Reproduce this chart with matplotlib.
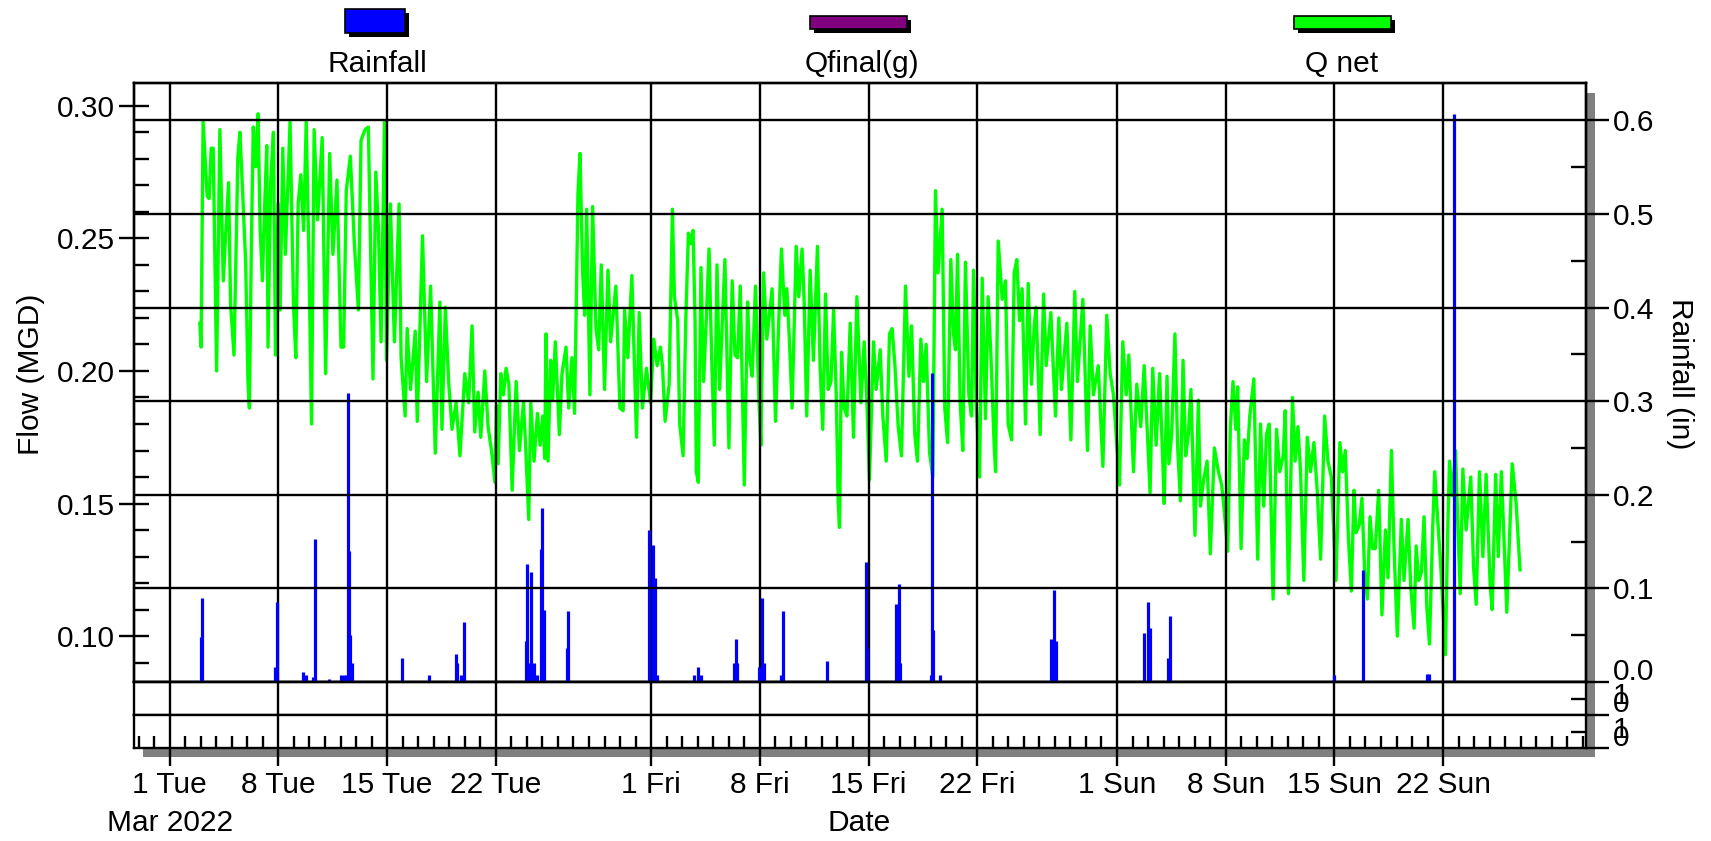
import numpy as np
import matplotlib
matplotlib.use('Agg')
import matplotlib.pyplot as plt
import matplotlib.dates as mdates
import matplotlib.transforms as mtransforms
from matplotlib.patches import Rectangle
from matplotlib.ticker import MultipleLocator, FixedLocator, FuncFormatter, NullFormatter

plt.rcParams['font.family'] = ['Liberation Sans', 'DejaVu Sans']
FS = 21.5

# Q net: days after 2022-03-01 00:00 and flow in MGD
qnet_day = [
    1.94, 2.02, 2.15, 2.41, 2.54, 2.67, 2.80, 3.02, 3.23, 3.45,
    3.60, 3.79, 3.92, 4.14, 4.39, 4.52, 4.67, 4.89, 5.04, 5.13,
    5.26, 5.38, 5.54, 5.69, 5.82, 5.97, 6.12, 6.25, 6.33, 6.50,
    6.68, 6.81, 6.98, 7.11, 7.28, 7.45, 7.75, 7.97, 8.12, 8.27,
    8.44, 8.62, 8.79, 8.96, 9.13, 9.30, 9.52, 9.82, 10.04, 10.30,
    10.51, 10.77, 11.03, 11.20, 11.37, 11.63, 11.89, 12.15, 12.32, 12.58,
    12.79, 13.09, 13.27, 13.44, 13.61, 13.83, 13.96, 14.21, 14.47, 14.77,
    14.90, 15.16, 15.29, 15.51, 15.81, 15.94, 16.28, 16.54, 16.80, 17.10,
    17.40, 17.53, 17.75, 17.96, 18.18, 18.44, 18.69, 19.00, 19.25, 19.47,
    19.64, 19.86, 20.03, 20.29, 20.50, 20.72, 20.94, 21.04, 21.15, 21.32,
    21.49, 21.66, 21.84, 22.05, 22.31, 22.52, 22.78, 22.91, 23.12, 23.25,
    23.46, 23.68, 23.85, 24.02, 24.15, 24.23, 24.36, 24.53, 24.66, 24.83,
    25.09, 25.26, 25.52, 25.69, 25.90, 26.07, 26.29, 26.42, 26.59, 26.72,
    26.85, 27.06, 27.23, 27.45, 27.62, 27.79, 28.00, 28.22, 28.39, 28.73,
    28.99, 29.20, 29.29, 29.50, 29.76, 30.06, 30.23, 30.44, 30.70, 30.96,
    31.17, 31.39, 31.60, 31.73, 31.90, 32.16, 32.37, 32.50, 32.71, 32.84,
    33.06, 33.23, 33.40, 33.53, 33.70, 33.83, 33.91, 34.04, 34.21, 34.38,
    34.55, 34.73, 34.90, 35.07, 35.24, 35.41, 35.54, 35.75, 36.01, 36.22,
    36.40, 36.57, 36.74, 37.00, 37.21, 37.34, 37.51, 37.72, 37.94, 38.07,
    38.24, 38.45, 38.79, 39.01, 39.22, 39.39, 39.61, 39.74, 39.91, 40.08,
    40.34, 40.51, 40.72, 40.85, 41.02, 41.24, 41.45, 41.71, 41.88, 42.05,
    42.23, 42.40, 42.58, 42.75, 42.92, 43.05, 43.13, 43.26, 43.43, 43.61,
    43.82, 44.03, 44.25, 44.51, 44.72, 44.89, 45.06, 45.32, 45.49, 45.75,
    45.92, 46.14, 46.35, 46.52, 46.70, 46.91, 47.12, 47.38, 47.60, 47.77,
    47.98, 48.15, 48.37, 48.54, 48.71, 48.93, 49.14, 49.31, 49.48, 49.74,
    49.91, 50.09, 50.30, 50.47, 50.60, 50.73, 50.90, 51.07, 51.24, 51.46,
    51.63, 51.76, 51.93, 52.15, 52.32, 52.53, 52.70, 52.88, 53.09, 53.18,
    53.35, 53.61, 53.82, 53.99, 54.21, 54.38, 54.55, 54.72, 54.89, 55.11,
    55.28, 55.49, 55.67, 55.79, 56.05, 56.27, 56.44, 56.74, 57.04, 57.25,
    57.42, 57.77, 58.03, 58.28, 58.45, 58.80, 59.10, 59.27, 59.48, 59.79,
    60.09, 60.34, 60.56, 60.77, 61.16, 61.37, 61.59, 61.76, 62.06, 62.27,
    62.53, 62.75, 62.96, 63.13, 63.30, 63.52, 63.74, 63.91, 64.04, 64.22,
    64.34, 64.52, 64.73, 64.90, 65.08, 65.25, 65.42, 65.59, 65.76, 66.02,
    66.24, 66.37, 66.58, 66.80, 67.01, 67.27, 67.53, 67.74, 67.91, 68.13,
    68.30, 68.47, 68.65, 68.77, 68.99, 69.20, 69.38, 69.55, 69.81, 70.06,
    70.24, 70.45, 70.62, 70.80, 71.05, 71.27, 71.48, 71.70, 71.83, 72.04,
    72.30, 72.47, 72.65, 72.82, 73.03, 73.25, 73.46, 73.68, 73.89, 74.11,
    74.37, 74.58, 74.80, 75.10, 75.35, 75.53, 75.70, 75.91, 76.09, 76.26,
    76.39, 76.60, 76.77, 76.95, 77.12, 77.29, 77.46, 77.63, 77.85, 78.06,
    78.28, 78.45, 78.67, 78.84, 79.05, 79.31, 79.48, 79.74, 79.91, 80.13,
    80.26, 80.43, 80.60, 80.77, 80.95, 81.12, 81.33, 81.46, 81.63, 81.85,
    82.15, 82.28, 82.41, 82.58, 82.80, 82.92, 83.10, 83.27, 83.48, 83.78,
    83.96, 84.13, 84.34, 84.56, 84.77, 85.03, 85.16, 85.38, 85.55, 85.75,
    86.10, 86.45, 86.70, 86.95,
]
qnet_mgd = [
    0.218, 0.209, 0.294, 0.266, 0.265, 0.284, 0.284, 0.200, 0.291, 0.234,
    0.251, 0.271, 0.225, 0.206, 0.281, 0.290, 0.271, 0.241, 0.196, 0.186,
    0.248, 0.292, 0.277, 0.297, 0.254, 0.234, 0.263, 0.285, 0.209, 0.271,
    0.290, 0.206, 0.263, 0.223, 0.284, 0.244, 0.294, 0.225, 0.205, 0.263,
    0.274, 0.253, 0.294, 0.244, 0.180, 0.291, 0.257, 0.288, 0.199, 0.282,
    0.244, 0.272, 0.209, 0.209, 0.268, 0.281, 0.248, 0.223, 0.287, 0.291,
    0.292, 0.197, 0.275, 0.254, 0.211, 0.294, 0.204, 0.263, 0.211, 0.263,
    0.205, 0.183, 0.216, 0.193, 0.215, 0.181, 0.251, 0.196, 0.232, 0.169,
    0.226, 0.178, 0.224, 0.196, 0.178, 0.188, 0.168, 0.199, 0.188, 0.217,
    0.177, 0.192, 0.175, 0.200, 0.179, 0.170, 0.158, 0.187, 0.165, 0.199,
    0.191, 0.201, 0.195, 0.155, 0.196, 0.170, 0.188, 0.173, 0.144, 0.188,
    0.166, 0.184, 0.172, 0.183, 0.167, 0.214, 0.166, 0.204, 0.189, 0.211,
    0.176, 0.199, 0.209, 0.186, 0.205, 0.184, 0.267, 0.282, 0.237, 0.221,
    0.261, 0.191, 0.262, 0.216, 0.208, 0.240, 0.193, 0.238, 0.211, 0.232,
    0.186, 0.185, 0.223, 0.205, 0.236, 0.175, 0.222, 0.186, 0.201, 0.188,
    0.212, 0.202, 0.209, 0.202, 0.181, 0.195, 0.261, 0.228, 0.219, 0.180,
    0.168, 0.219, 0.252, 0.248, 0.253, 0.219, 0.162, 0.158, 0.239, 0.196,
    0.219, 0.246, 0.205, 0.172, 0.240, 0.193, 0.212, 0.242, 0.171, 0.234,
    0.206, 0.205, 0.232, 0.157, 0.226, 0.205, 0.198, 0.232, 0.189, 0.172,
    0.237, 0.212, 0.231, 0.181, 0.219, 0.246, 0.221, 0.231, 0.211, 0.186,
    0.247, 0.228, 0.246, 0.227, 0.183, 0.238, 0.204, 0.247, 0.202, 0.178,
    0.229, 0.193, 0.196, 0.223, 0.191, 0.150, 0.141, 0.207, 0.186, 0.183,
    0.218, 0.175, 0.228, 0.188, 0.211, 0.189, 0.159, 0.211, 0.193, 0.208,
    0.183, 0.166, 0.214, 0.216, 0.202, 0.179, 0.168, 0.232, 0.198, 0.217,
    0.176, 0.166, 0.212, 0.196, 0.210, 0.169, 0.160, 0.268, 0.237, 0.261,
    0.186, 0.173, 0.242, 0.214, 0.208, 0.244, 0.188, 0.170, 0.241, 0.191,
    0.183, 0.238, 0.188, 0.160, 0.235, 0.182, 0.228, 0.206, 0.172, 0.162,
    0.249, 0.227, 0.234, 0.180, 0.174, 0.237, 0.242, 0.219, 0.231, 0.180,
    0.233, 0.195, 0.217, 0.224, 0.176, 0.229, 0.202, 0.222, 0.183, 0.220,
    0.193, 0.218, 0.174, 0.230, 0.196, 0.227, 0.170, 0.217, 0.191, 0.202,
    0.164, 0.221, 0.199, 0.191, 0.157, 0.211, 0.191, 0.206, 0.162, 0.195,
    0.179, 0.202, 0.176, 0.154, 0.201, 0.172, 0.199, 0.172, 0.150, 0.198,
    0.165, 0.176, 0.214, 0.172, 0.151, 0.204, 0.168, 0.176, 0.193, 0.138,
    0.189, 0.149, 0.159, 0.166, 0.131, 0.171, 0.162, 0.157, 0.147, 0.132,
    0.179, 0.196, 0.178, 0.194, 0.133, 0.174, 0.167, 0.183, 0.197, 0.129,
    0.180, 0.149, 0.176, 0.180, 0.114, 0.178, 0.162, 0.168, 0.185, 0.116,
    0.190, 0.166, 0.179, 0.162, 0.121, 0.175, 0.162, 0.173, 0.155, 0.129,
    0.183, 0.166, 0.160, 0.121, 0.173, 0.162, 0.170, 0.136, 0.117, 0.155,
    0.139, 0.142, 0.152, 0.124, 0.114, 0.145, 0.133, 0.133, 0.155, 0.108,
    0.140, 0.122, 0.170, 0.133, 0.100, 0.144, 0.121, 0.144, 0.119, 0.103,
    0.134, 0.121, 0.124, 0.145, 0.111, 0.097, 0.141, 0.162, 0.146, 0.126,
    0.093, 0.136, 0.166, 0.153, 0.170, 0.147, 0.116, 0.163, 0.140, 0.160,
    0.126, 0.112, 0.162, 0.130, 0.161, 0.119, 0.110, 0.161, 0.130, 0.162,
    0.109, 0.165, 0.150, 0.125,
]

# rainfall (in), same time base
rain_day = [
    2.00, 2.09, 6.77, 6.89, 8.61, 8.78, 9.25, 9.37, 10.27, 11.03, 11.20,
    11.37, 11.48, 11.57, 11.63, 11.72, 14.95, 16.71, 18.42, 18.52, 18.74, 18.95,
    22.95, 23.03, 23.16, 23.29, 23.46, 23.68, 23.89, 24.00, 24.10, 25.56, 25.65,
    30.87, 31.09, 31.26, 31.39, 33.78, 34.04, 34.21, 36.31, 36.44, 36.52, 37.92,
    38.11, 38.24, 39.35, 39.52, 42.35,
    44.81, 44.89, 46.78, 46.95, 47.04, 49.01, 49.10, 49.18, 49.61, 56.74, 56.95,
    57.08, 62.75, 63.00, 63.13, 64.30, 64.43, 74.97, 76.82, 80.95, 81.12, 82.67,
]
rain_in = [
    0.048, 0.090, 0.016, 0.086, 0.011, 0.007, 0.005, 0.153, 0.003, 0.007, 0.007,
    0.007, 0.309, 0.140, 0.050, 0.020, 0.026, 0.007, 0.030, 0.020, 0.007, 0.064,
    0.044, 0.126, 0.020, 0.118, 0.020, 0.007, 0.142, 0.186, 0.077, 0.036, 0.076,
    0.162, 0.146, 0.111, 0.007, 0.007, 0.016, 0.007, 0.020, 0.046, 0.020, 0.016,
    0.090, 0.020, 0.007, 0.076, 0.022,
    0.128, 0.036, 0.083, 0.105, 0.020, 0.007, 0.330, 0.056, 0.007, 0.046, 0.098,
    0.044, 0.052, 0.086, 0.058, 0.026, 0.070, 0.007, 0.120, 0.009, 0.009, 0.607,
]

legend_names = ['Rainfall', 'Qfinal(g)', 'Q net']
legend_colors = ['#0000ff', '#800080', '#00ff00']
major_days = [1, 8, 15, 22]

assert len(qnet_day) == len(qnet_mgd) and len(rain_day) == len(rain_in)

t0 = np.datetime64('2022-03-01T00:00')


def to_dates(days):
    return t0 + np.round(np.array(days) * 1440).astype(int).astype('timedelta64[m]')


q_t = to_dates(qnet_day)
r_t = to_dates(rain_day)

W, H = 1711, 841
fig = plt.figure(figsize=(W / 100, H / 100), dpi=100)


def px_box(x0, y0, x1, y1):
    # pixel box, origin top-left -> figure fraction [l, b, w, h]
    return [x0 / W, 1 - y1 / H, (x1 - x0) / W, (y1 - y0) / H]


def px_rect(x0, y0, x1, y1, **kw):
    l, b, w, h = px_box(x0, y0, x1, y1)
    return fig.add_artist(Rectangle((l, b), w, h, transform=fig.transFigure, **kw))


# grey drop shadow behind the frame
px_rect(1586, 93, 1595, 757, color='#808080', lw=0, zorder=-5)
px_rect(143, 748, 1595, 757, color='#808080', lw=0, zorder=-5)

ax = fig.add_axes(px_box(134, 83, 1586, 682))
p1 = fig.add_axes(px_box(134, 682, 1586, 715), sharex=ax)
p2 = fig.add_axes(px_box(134, 715, 1586, 748), sharex=ax)

LW = 1.7
for a in (ax, p1, p2):
    for s in a.spines.values():
        s.set_linewidth(LW)
    a.grid(axis='x', which='major', color='black', lw=LW)
    a.set_axisbelow(False)

ax.plot(q_t, qnet_mgd, color='#00ff00', lw=2.4)
ax.set_xlim(t0 - np.timedelta64(int(2.3 * 1440), 'm'), t0 + np.timedelta64(int(91.2 * 1440), 'm'))
ax.set_ylim(0.0827, 0.3086)
ax.yaxis.set_major_locator(MultipleLocator(0.05))
ax.yaxis.set_minor_locator(MultipleLocator(0.01))
ax.yaxis.set_major_formatter(FuncFormatter(lambda v, p: f'{v:.2f}'))
ax.tick_params(axis='y', which='major', direction='inout', length=21.6, width=LW, labelsize=FS, pad=3)
ax.tick_params(axis='y', which='minor', direction='in', length=11, width=LW)
ax.tick_params(axis='x', which='both', bottom=False, top=False, labelbottom=False)

axr = ax.twinx()
axr.vlines(r_t, 0, rain_in, color='#0000ff', lw=2.3)
axr.set_ylim(0, 0.64)
axr.yaxis.set_major_locator(MultipleLocator(0.1))
axr.yaxis.set_minor_locator(MultipleLocator(0.05))
axr.yaxis.set_major_formatter(FuncFormatter(lambda v, p: '' if v < 0.05 else f'{v:.1f}'))
axr.tick_params(axis='y', which='major', direction='out', length=16.5, width=LW, labelsize=FS, pad=3)
axr.tick_params(axis='y', which='minor', direction='in', length=11, width=LW)
axr.grid(axis='y', which='major', color='black', lw=LW)
axr.set_axisbelow(False)
for s in axr.spines.values():
    s.set_linewidth(LW)
# the 0.0 label sits just above its line
rlab = mtransforms.blended_transform_factory(axr.transAxes, axr.transData)
axr.text(1.0186, 0.002, '0.0', transform=rlab, ha='left', va='baseline', fontsize=FS)

# two empty strips under the main panel
for p, ys in ((p1, (0.333, 0.091)), (p2, (0.303, 0.06))):
    p.set_ylim(0, 1)
    p.yaxis.tick_right()
    p.yaxis.set_major_locator(FixedLocator([0]))
    p.yaxis.set_minor_locator(FixedLocator([0.5]))
    p.yaxis.set_major_formatter(NullFormatter())
    p.tick_params(axis='y', which='major', direction='out', length=16.5, width=LW)
    p.tick_params(axis='y', which='minor', direction='in', length=11, width=LW)
    p.text(1.0186, ys[0], '1', transform=p.transAxes, ha='left', va='baseline', fontsize=FS)
    p.text(1.0186, ys[1], '0', transform=p.transAxes, ha='left', va='baseline', fontsize=FS)

p1.tick_params(axis='x', which='both', bottom=False, top=False, labelbottom=False)

p2.xaxis.set_major_locator(mdates.DayLocator(bymonthday=major_days))
p2.xaxis.set_minor_locator(mdates.DayLocator())
p2.xaxis.set_major_formatter(FuncFormatter(lambda v, p: mdates.num2date(v).strftime('%d %a').lstrip('0')))
p2.tick_params(axis='x', which='major', direction='out', length=13, width=LW, labelsize=FS, pad=3.5)
p2.tick_params(axis='x', which='minor', direction='in', length=9, width=LW)

xlab = mtransforms.blended_transform_factory(p2.transData, fig.transFigure)
p2.text(mdates.date2num(t0), 1 - 831 / H, 'Mar 2022', transform=xlab, ha='center', va='baseline', fontsize=FS)
fig.text(859 / W, 1 - 831 / H, 'Date', ha='center', va='baseline', fontsize=FS)
fig.text(31 / W, 1 - 374 / H, 'Flow (MGD)', rotation=90, ha='center', va='center', fontsize=FS)
fig.text(1680 / W, 1 - 374 / H, 'Rainfall (in)', rotation=270, ha='center', va='center', fontsize=FS)

# legend boxes with black drop shadow
legend_boxes = [(345, 9, 405, 33), (810, 16, 907, 29), (1294, 16, 1391, 29)]
legend_x = [377, 862, 1342]
for name, col, (x0, y0, x1, y1), xc in zip(legend_names, legend_colors, legend_boxes, legend_x):
    px_rect(x0 + 4, y0 + 4, x1 + 4, y1 + 4, color='black', lw=0)
    px_rect(x0, y0, x1, y1, facecolor=col, edgecolor='black', lw=1.2)
    fig.text(xc / W, 1 - 72 / H, name, ha='center', va='baseline', fontsize=FS)

fig.savefig('out.png', dpi=100)
